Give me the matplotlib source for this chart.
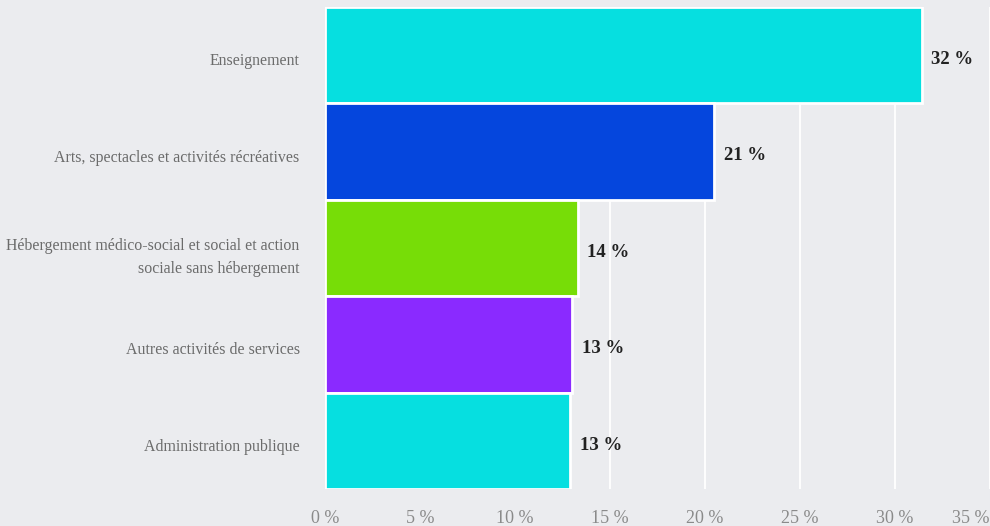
import matplotlib
matplotlib.use("Agg")
import matplotlib.pyplot as plt
import matplotlib.transforms as mtransforms

categories = ["Enseignement",
              "Arts, spectacles et activités récréatives",
              "Hébergement médico-social et social et action\nsociale sans hébergement",
              "Autres activités de services",
              "Administration publique"]
values = [31.4, 20.5, 13.3, 13.0, 12.9]
labels = ["32 %", "21 %", "14 %", "13 %", "13 %"]
colors = ["#06dfe0", "#0546dd", "#77dd07", "#8a2aff", "#06dfe0"]
xticks = [0, 5, 10, 15, 20, 25, 30, 35]
xticklabels = ["0 %", "5 %", "10 %", "15 %", "20 %", "25 %", "30 %", "35 %"]

plt.rcParams['font.family'] = ['Liberation Serif', 'DejaVu Serif']
bg = "#ebecef"
fig = plt.figure(figsize=(9.9, 5.26), dpi=100, facecolor=bg)
ax = fig.add_axes([0.328, 0.070, 0.672, 0.917], facecolor=bg)

y = list(range(len(categories)))
ax.barh(y, values, height=1.0, color=colors, edgecolor="white", linewidth=2, zorder=3)
ax.set_ylim(len(categories) - 0.5, -0.5)
ax.set_xlim(0, 35)
ax.set_yticks(y)
ax.set_yticklabels(categories, fontsize=11.4, color="#6b6b6b", linespacing=1.55)
ax.set_xticks(xticks)
tl = ax.set_xticklabels(xticklabels, fontsize=13, color="#8a8a8a")
tl[-1].set_ha("right")
ax.tick_params(axis="y", length=0, pad=18)
ax.tick_params(axis="x", length=0, pad=15)
shift = mtransforms.ScaledTranslation(0, -4 / 100, fig.dpi_scale_trans)
for t in ax.get_yticklabels():
    t.set_transform(t.get_transform() + shift)
ax.grid(axis="x", color="white", linewidth=1.3, zorder=0)
for s in ax.spines.values():
    s.set_visible(False)

for yi, v, lab in zip(y, values, labels):
    ax.annotate(lab, (v, yi), xytext=(7, -3), textcoords="offset points",
                ha="left", va="center", fontsize=13.5, fontweight="bold", color="#222222")

fig.savefig("out.png", dpi=100, facecolor=bg)
